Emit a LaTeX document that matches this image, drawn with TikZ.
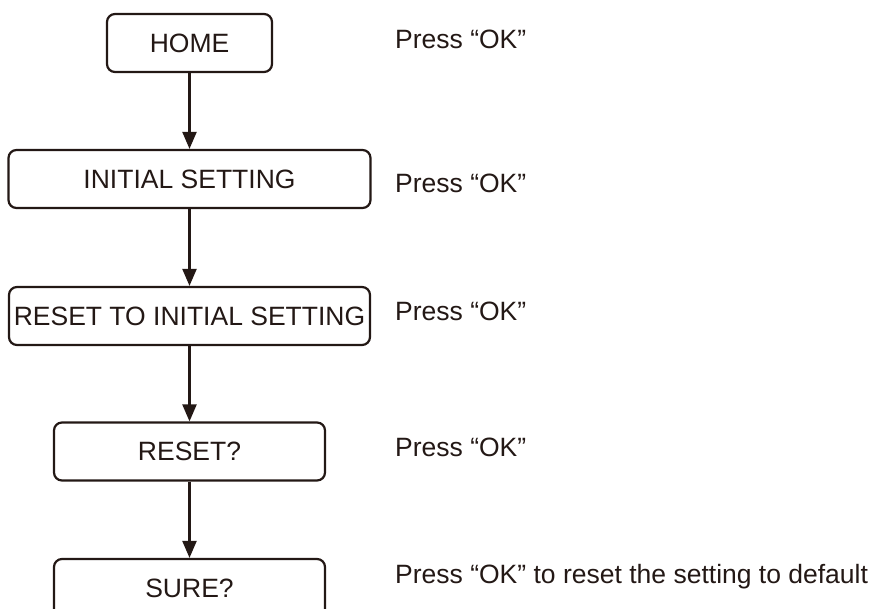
\documentclass[tikz,border=0pt]{standalone}
\usepackage{fontspec}
\setmainfont{Liberation Sans}
\usepackage{tikz}
\usetikzlibrary{arrows.meta, positioning}
\definecolor{ink}{RGB}{35,24,21}

\begin{document}
\begin{tikzpicture}[x=1pt, y=-1pt,
    stepbox/.style={draw=ink, text=ink, line width=2.2pt, rounded corners=8pt, minimum height=58pt, inner sep=0pt, font=\fontsize{26.5}{30}\selectfont},
    hint/.style={text=ink, inner sep=0pt, anchor=base west, font=\fontsize{26.5}{30}\selectfont},
    flow/.style={draw=ink, line width=2.2pt, -{Triangle[length=17pt, width=14pt]}}]
      \useasboundingbox (0, 0) rectangle (875, 608);
      % Menu steps
      \node[stepbox, minimum width=165pt] (home) at (189.5, 43) {HOME};
      \node[stepbox, minimum width=362pt] (init) at (189.5, 179) {INITIAL SETTING};
      \node[stepbox, minimum width=361pt] (resetinit) at (189.5, 316) {RESET TO INITIAL SETTING};
      \node[stepbox, minimum width=271pt] (reset) at (189.5, 451.5) {RESET?};
      \node[stepbox, minimum width=271pt] (sure) at (189.5, 588) {SURE?};
      
      % Key presses
      \node[hint] (press1) at (395, 48) {Press “OK”};
      \node[hint] (press2) at (395, 192) {Press “OK”};
      \node[hint] (press3) at (395, 320) {Press “OK”};
      \node[hint] (press4) at (395, 456) {Press “OK”};
      \node[hint] (press5) at (395, 583) {Press “OK” to reset the setting to default};
      
      \draw[flow] (home) -- (init);
      \draw[flow] (init) -- (resetinit);
      \draw[flow] (resetinit) -- (reset);
      \draw[flow] (reset) -- (sure);
    \end{tikzpicture}
\end{document}
